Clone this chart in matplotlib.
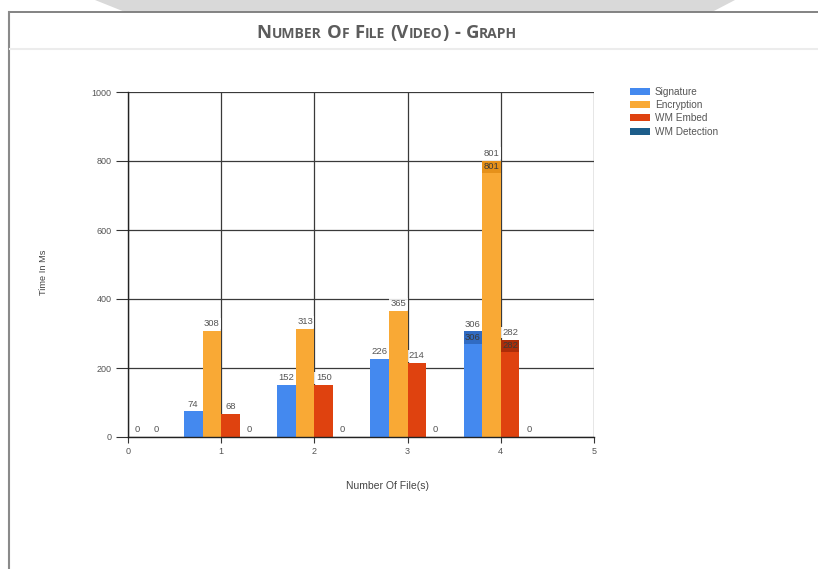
import matplotlib
matplotlib.use("Agg")
import matplotlib.pyplot as plt
from matplotlib.lines import Line2D
from matplotlib.patches import Polygon
import numpy as np

plt.rcParams['font.family'] = ['Liberation Sans', 'DejaVu Sans']

# ---- data ----
files = [0, 1, 2, 3, 4]
series_names = ["Signature", "Encryption", "WM Embed", "WM Detection"]
signature = [0, 74, 152, 226, 306]
encryption = [0, 308, 313, 365, 801]
wm_embed = [0, 68, 150, 214, 282]
wm_detection = [0, 0, 0, 0, 0]
x_ticks = [0, 1, 2, 3, 4, 5]
y_ticks = [0, 200, 400, 600, 800, 1000]
title = "Number Of File (Video) - Graph"

colors = ["#4489ef", "#f9a935", "#df420f", "#1d5d8a"]
dark_colors = ["#2a62b5", "#e08a12", "#9c2608", "#123f60"]

W, H = 818, 569
fig = plt.figure(figsize=(W / 100, H / 100), dpi=100)
fig.patch.set_facecolor("white")


def fx(x):
    return x / W


def fy(y):
    return 1 - y / H


# page decoration behind the panel
fig.patches.append(Polygon([(fx(95), fy(0)), (fx(125), fy(12)), (fx(712), fy(12)),
                            (fx(735), fy(0))], closed=True, transform=fig.transFigure,
                           facecolor="#d9d9d9", edgecolor="none", zorder=0))
fig.lines.append(Line2D([fx(9), fx(818)], [fy(12), fy(12)], transform=fig.transFigure,
                        color="#7a7a7a", lw=1.3))
fig.lines.append(Line2D([fx(9), fx(9)], [fy(12), fy(569)], transform=fig.transFigure,
                        color="#8a8a8a", lw=1.5))
fig.lines.append(Line2D([fx(10), fx(818)], [fy(49), fy(49)], transform=fig.transFigure,
                        color="#ececec", lw=1.5))

# small-caps title
renderer = fig.canvas.get_renderer()
big, small = 13.3, 10.0
runs = []
for word in title.split(" "):
    for ch in word:
        size = small if ch.islower() else big
        if runs and runs[-1][1] == size and runs[-1][0] != " ":
            runs[-1][0] += ch.upper()
        else:
            runs.append([ch.upper(), size])
    runs.append([" ", None])
runs = runs[:-1]
widths = []
for txt, size in runs:
    if txt == " ":
        widths.append(5.5)
    else:
        t = fig.text(0, 0, txt, fontsize=size, fontweight="bold", family="Open Sans")
        widths.append(t.get_window_extent(renderer).width)
        t.remove()
total = sum(widths)
cx = 387 - total / 2
for (txt, size), w in zip(runs, widths):
    if txt != " ":
        fig.text(fx(cx), fy(38), txt, fontsize=size, fontweight="bold", family="Open Sans",
                 color="#5c5c5c", ha="left", va="baseline")
    cx += w

# ---- plot ----
ax = fig.add_axes([fx(128), fy(437), (594 - 128) / W, (437 - 92) / H])
ax.set_xlim(0, 5)
ax.set_ylim(0, 1000)
ax.set_xticks(x_ticks)
ax.set_yticks(y_ticks)
ax.tick_params(axis="y", length=9, width=0.8, color="#333333", labelsize=6.5,
               labelcolor="#555555", pad=3)
ax.tick_params(axis="x", length=4, width=0.8, color="#333333", labelsize=6.5,
               labelcolor="#555555", pad=3)
ax.grid(True, color="#3a3a3a", lw=0.9)
ax.set_axisbelow(True)
for s in ["top", "right"]:
    ax.spines[s].set_visible(False)
for s in ["left", "bottom"]:
    ax.spines[s].set_color("#222222")
    ax.spines[s].set_linewidth(1.0)

all_series = [signature, encryption, wm_embed, wm_detection]
bar_w = 0.2
offsets = [-0.3, -0.1, 0.1, 0.3]
x = np.array(files, dtype=float)
for vals, name, col, off in zip(all_series, series_names, colors, offsets):
    ax.bar(x + off, vals, width=bar_w, color=col, label=name, zorder=2)
    for xi, v in zip(x, vals):
        ax.annotate(str(v), (xi + off, v), xytext=(0, 2), textcoords="offset points",
                    ha="center", va="bottom", fontsize=6.8, color="#555555",
                    bbox=dict(boxstyle="square,pad=0.15", fc="white", ec="none", alpha=0.85),
                    annotation_clip=True, clip_on=True, zorder=3)

# highlighted values in the last group
band = 35
last = len(files) - 1
for vals, dcol, off in zip(all_series[:3], dark_colors[:3], offsets[:3]):
    v = vals[last]
    ax.bar(x[last] + off, band, bottom=v - band, width=bar_w, color=dcol, alpha=0.75, zorder=2.5)
    ax.text(x[last] + off, v - band / 2, str(v), ha="center", va="center", fontsize=6.8,
            color="#3a3a3a", zorder=3)

# legend
handles, labels = ax.get_legend_handles_labels()
fig.legend(handles, labels, loc="upper left", bbox_to_anchor=(fx(630), fy(87)),
           frameon=False, fontsize=7.2, handlelength=2.0, handleheight=0.7,
           labelspacing=0.32, handletextpad=0.5, borderaxespad=0, borderpad=0,
           labelcolor="#555555")

fig.text(fx(43), fy(272), "Time In Ms", rotation=90, ha="center", va="center",
         fontsize=6.7, color="#444444")
fig.text(fx(388), fy(486), "Number Of File(s)", ha="center", va="center",
         fontsize=7.5, color="#444444")

fig.savefig("out.png", dpi=100)
